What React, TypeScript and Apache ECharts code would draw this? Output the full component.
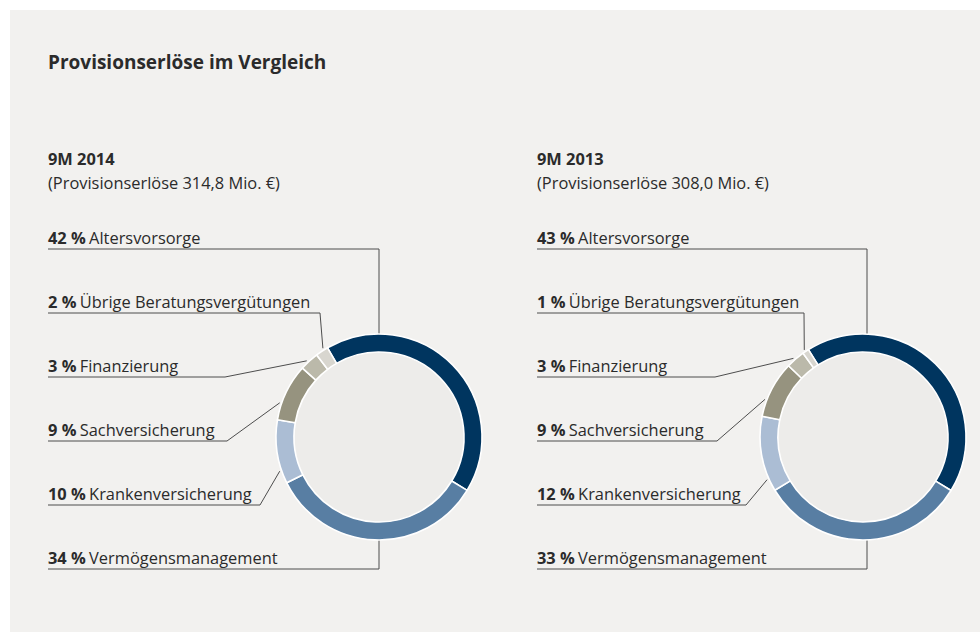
import React, { useEffect, useRef } from "react";
import * as echarts from "echarts";

// ---- data ----
const titleText = "Provisionserlöse im Vergleich";
const categories = [
  "Altersvorsorge",
  "Vermögensmanagement",
  "Krankenversicherung",
  "Sachversicherung",
  "Finanzierung",
  "Übrige Beratungsvergütungen",
];
const values2014 = [42, 34, 10, 9, 3, 2];
const values2013 = [43, 33, 12, 9, 3, 1];
const periods = ["9M 2014", "9M 2013"];
const totals = ["(Provisionserlöse 314,8 Mio. €)", "(Provisionserlöse 308,0 Mio. €)"];

// ---- styles / layout ----
const colors = ["#00355f", "#587ea3", "#abbdd4", "#96937f", "#bbb9aa", "#d8d6cf"];
const FONT = '"Open Sans", "Noto Sans", sans-serif';
const TEXT = "#2b2b2b";
const LINE = "#4d4d4d";
const FS = 16.4;
const CY = 437;
const R_IN = 85;
const R_OUT = 103;
const lineYs = [249, 569, 505, 441, 377, 313];
const panels = [
  {
    cx: 379,
    labelX: 48,
    startAngle: 120,
    anchorAngles: [0, 180, 251, 289, 316.5, 327.7],
    bendDX: [0, 0, -119, -152, -154, -59],
  },
  {
    cx: 863,
    labelX: 537,
    startAngle: 122,
    anchorAngles: [0, 180, 246, 291, 318.5, 326],
    bendDX: [4, 4, -117, -146, -148, -59],
  },
];
const seriesValues = [values2014, values2013];

export default function App() {
  const ref = useRef<HTMLDivElement>(null);

  useEffect(() => {
    if (!ref.current) return;
    const chart = echarts.init(ref.current, undefined, { renderer: "svg" });

    const ringSeries: any[] = panels.map((p, pi) => ({
      type: "pie",
      z: 3,
      center: [p.cx, CY],
      radius: [R_IN, R_OUT],
      startAngle: p.startAngle,
      clockwise: true,
      avoidLabelOverlap: false,
      silent: true,
      itemStyle: { borderColor: "#ffffff", borderWidth: 1.6 },
      label: {
        show: true,
        position: "outside",
        formatter: (prm: any) => `{p|${prm.value} %} {n|${prm.name}}`,
        rich: {
          p: { fontFamily: FONT, fontSize: FS, fontWeight: "bold", color: TEXT },
          n: { fontFamily: FONT, fontSize: FS, color: TEXT },
        },
      },
      labelLine: {
        show: true,
        smooth: false,
        lineStyle: { color: LINE, width: 1 },
      },
      labelLayout: (params: any) => {
        const i = params.dataIndex;
        const ly = lineYs[i];
        const bx = p.cx + p.bendDX[i];
        let ax: number;
        let ay: number;
        if (i === 0) {
          ax = bx;
          ay = CY - R_OUT;
        } else if (i === 1) {
          ax = bx;
          ay = CY + R_OUT;
        } else {
          const t = (p.anchorAngles[i] * Math.PI) / 180;
          ax = p.cx + 105 * Math.sin(t);
          ay = CY - 105 * Math.cos(t);
        }
        return {
          x: p.labelX,
          y: ly - 12,
          align: "left",
          verticalAlign: "middle",
          labelLinePoints: [
            [ax, ay],
            [bx, ly],
            [p.labelX, ly],
          ],
        };
      },
      data: categories.map((c, i) => ({
        name: c,
        value: seriesValues[pi][i],
        itemStyle: { color: colors[i] },
      })),
    }));

    const fillSeries: any[] = panels.map((p) => ({
      type: "pie",
      z: 2,
      center: [p.cx, CY],
      radius: [0, R_IN],
      silent: true,
      label: { show: false },
      labelLine: { show: false },
      itemStyle: { color: "#edecea" },
      data: [{ value: 1, name: "" }],
    }));

    chart.setOption({
      animation: false,
      backgroundColor: "#ffffff",
      graphic: [
        {
          type: "rect",
          z: 0,
          shape: { x: 10, y: 10, width: 970, height: 622 },
          style: { fill: "#f2f1ef" },
          silent: true,
        },
      ],
      title: [
        {
          text: titleText,
          left: 48,
          top: 50,
          padding: 0,
          textStyle: { fontFamily: FONT, fontSize: 19, fontWeight: "bold", color: TEXT, lineHeight: 24 },
        },
        ...panels.map((p, i) => ({
          text: periods[i],
          subtext: totals[i],
          left: p.labelX,
          top: 147,
          padding: 0,
          itemGap: 2,
          textStyle: { fontFamily: FONT, fontSize: FS, fontWeight: "bold", color: TEXT, lineHeight: 22 },
          subtextStyle: { fontFamily: FONT, fontSize: FS, color: TEXT, lineHeight: 22 },
        })),
      ],
      series: [...fillSeries, ...ringSeries],
    });

    return () => chart.dispose();
  }, []);

  return (
    <div
      ref={ref}
      style={{ position: "fixed", left: 0, top: 0, width: 980, height: 635 }}
    />
  );
}
